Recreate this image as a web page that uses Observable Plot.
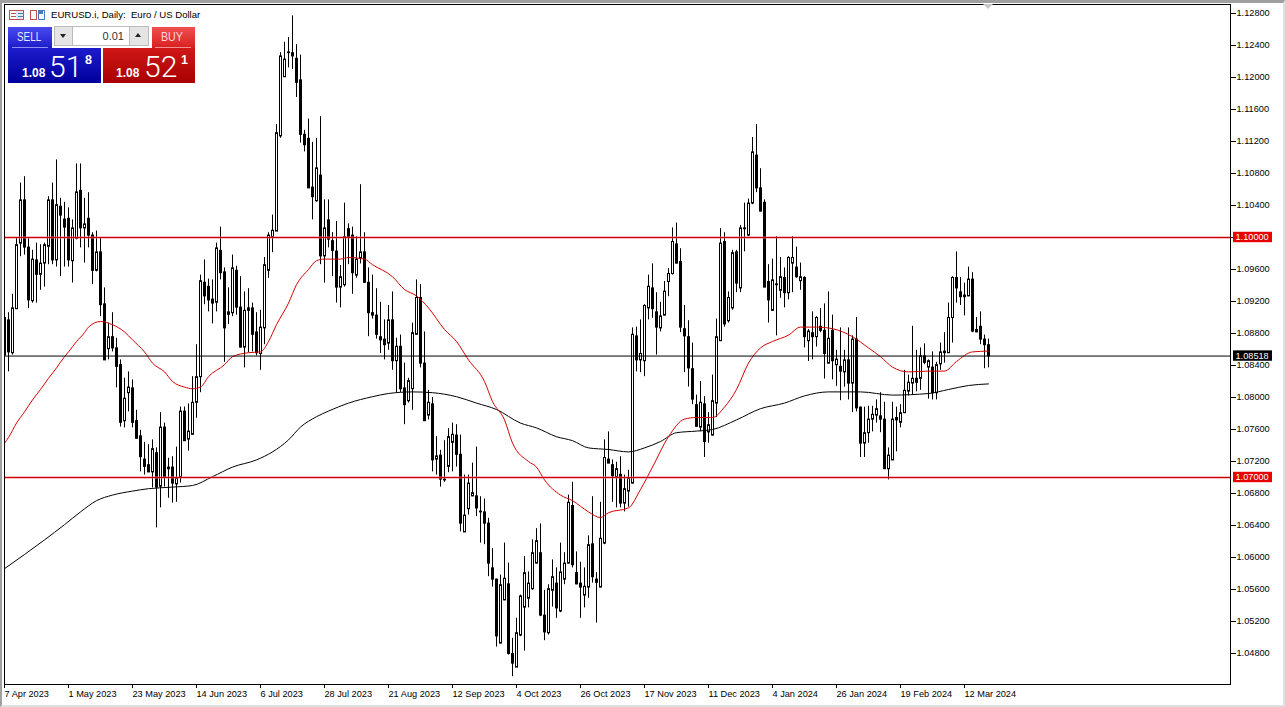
<!DOCTYPE html>
<html>
<head>
<meta charset="utf-8">
<script src="https://cdn.jsdelivr.net/npm/d3@7"></script>
<script src="https://cdn.jsdelivr.net/npm/@observablehq/plot@0.6"></script>
<style>
html,body{margin:0;padding:0;background:#fff;width:1285px;height:707px;overflow:hidden;font-family:"Liberation Sans",Arial,sans-serif}
#chart{position:absolute;left:0;top:0}
#edge{position:absolute;left:0;top:0;width:1285px;height:707px;box-sizing:border-box;border-top:3px solid #a0a0a0;border-left:2px solid #a0a0a0;border-right:2px solid #e0e0e0;border-bottom:2px solid #e0e0e0;pointer-events:none}
.abs{position:absolute;white-space:nowrap;line-height:1}
#tri{position:absolute;left:983px;top:4px;width:0;height:0;border-left:5px solid transparent;border-right:5px solid transparent;border-top:5px solid #c8c8c8}
</style>
</head>
<body>
<div id="chart"></div>
<div id="edge"></div>
<div id="tri"></div>
<div id="widget"></div>
<script>
const highs=[1.0922,1.0906,1.0929,1.0999,1.1068,1.1076,1.0999,1.0984,1.0993,1.0991,
1.0993,1.1051,1.1068,1.1097,1.1049,1.1044,1.1037,1.1022,1.1092,1.1092,
1.1049,1.1056,1.1006,1.1008,1.0999,1.0937,1.0893,1.0906,1.0874,1.0847,
1.0824,1.0832,1.0822,1.0784,1.0759,1.0744,1.0741,1.0747,1.0737,1.0781,
1.0768,1.0724,1.0726,1.0738,1.0788,1.0788,1.0792,1.0826,1.0866,1.0953,
1.0972,1.0948,1.0947,1.0993,1.1013,1.0962,1.0937,1.0978,1.0964,1.0951,
1.0932,1.0936,1.0918,1.0906,1.0909,1.0975,1.1006,1.1028,1.1141,1.1231,
1.1244,1.1250,1.1277,1.1241,1.1228,1.1134,1.1148,1.1119,1.1124,1.1151,
1.1047,1.1047,1.1006,1.1020,1.0965,1.1043,1.1017,1.1013,1.1001,1.1066,
1.1006,1.0962,1.0953,1.0936,1.0919,1.0897,1.0915,1.0932,1.0874,1.0878,
1.0843,1.0824,1.0893,1.0947,1.0941,1.0882,1.0809,1.0800,1.0751,1.0734,
1.0746,1.0761,1.0768,1.0766,1.0753,1.0703,1.0703,1.0718,1.0738,1.0676,
1.0673,1.0649,1.0611,1.0573,1.0578,1.0618,1.0593,1.0499,1.0524,1.0553,
1.0601,1.0582,1.0622,1.0636,1.0642,1.0559,1.0566,1.0597,1.0587,1.0618,
1.0606,1.0678,1.0694,1.0607,1.0594,1.0587,1.0627,1.0676,1.0581,1.0669,
1.0747,1.0757,1.0722,1.0719,1.0726,1.0703,1.0709,1.0887,1.0888,1.0897,
1.0916,1.0953,1.0967,1.0931,1.0919,1.0945,1.0961,1.1012,1.1018,1.0986,
1.0915,1.0896,1.0868,1.0803,1.0820,1.0801,1.0781,1.0828,1.0898,1.1011,
1.1006,1.0932,1.0984,1.0984,1.1015,1.1043,1.1048,1.1125,1.1141,1.1086,
1.1047,1.0966,1.0973,1.1001,1.0975,1.0962,1.0976,1.1001,1.0988,1.0968,
1.0951,1.0885,1.0907,1.0901,1.0911,1.0917,1.0932,1.0903,1.0859,1.0887,
1.0859,1.0887,1.0877,1.0900,1.0788,1.0788,1.0789,1.0789,1.0797,1.0806,
1.0794,1.0737,1.0794,1.0788,1.0791,1.0834,1.0828,1.0889,1.0859,1.0862,
1.0867,1.0847,1.0857,1.0844,1.0868,1.0881,1.0918,1.0951,1.0982,1.0950,
1.0943,1.0963,1.0956,1.0900,1.0907,1.0878,1.0873];
const lows=[1.0853,1.0832,1.0853,1.0910,1.0976,1.0978,1.0911,1.0918,1.0918,1.0934,
1.0938,1.0966,1.0966,1.0963,1.0951,1.0963,1.0963,1.0943,1.0997,1.0987,
1.0968,1.0987,1.0941,1.0957,1.0901,1.0847,1.0847,1.0857,1.0812,1.0763,
1.0762,1.0782,1.0762,1.0749,1.0707,1.0703,1.0706,1.0687,1.0637,1.0662,
1.0688,1.0674,1.0668,1.0669,1.0693,1.0746,1.0733,1.0754,1.0774,1.0806,
1.0916,1.0907,1.0892,1.0907,1.0947,1.0844,1.0891,1.0901,1.0903,1.0862,
1.0837,1.0856,1.0857,1.0852,1.0834,1.0866,1.0949,1.0981,1.1008,1.1124,
1.1201,1.1212,1.1210,1.1175,1.1118,1.1107,1.1062,1.1022,1.1044,1.0966,
1.0943,1.0987,1.0951,1.0918,1.0912,1.0938,1.0966,1.0929,1.0949,1.0967,
1.0943,1.0876,1.0898,1.0873,1.0855,1.0847,1.0859,1.0834,1.0806,1.0806,
1.0766,1.0793,1.0784,1.0878,1.0837,1.0771,1.0772,1.0707,1.0703,1.0688,
1.0694,1.0706,1.0707,1.0713,1.0632,1.0632,1.0653,1.0676,1.0651,1.0618,
1.0616,1.0576,1.0563,1.0488,1.0492,1.0546,1.0478,1.0451,1.0463,1.0501,
1.0483,1.0537,1.0559,1.0592,1.0526,1.0496,1.0503,1.0538,1.0524,1.0531,
1.0566,1.0592,1.0587,1.0566,1.0524,1.0537,1.0549,1.0568,1.0518,1.0563,
1.0616,1.0718,1.0669,1.0662,1.0662,1.0657,1.0663,1.0692,1.0832,1.0831,
1.0826,1.0897,1.0899,1.0853,1.0882,1.0902,1.0926,1.0953,1.0967,1.0881,
1.0831,1.0813,1.0791,1.0763,1.0757,1.0725,1.0743,1.0752,1.0775,1.0870,
1.0888,1.0893,1.0909,1.0931,1.0931,1.0982,1.1001,1.1041,1.1056,1.1032,
1.0938,1.0893,1.0908,1.0877,1.0924,1.0912,1.0922,1.0931,1.0949,1.0934,
1.0862,1.0845,1.0847,1.0863,1.0881,1.0823,1.0842,1.0822,1.0814,1.0796,
1.0813,1.0797,1.0781,1.0782,1.0725,1.0725,1.0743,1.0757,1.0768,1.0756,
1.0711,1.0697,1.0721,1.0732,1.0762,1.0780,1.0802,1.0803,1.0807,1.0809,
1.0841,1.0798,1.0797,1.0797,1.0834,1.0843,1.0855,1.0868,1.0918,1.0915,
1.0902,1.0926,1.0881,1.0881,1.0866,1.0836,1.0837];
const opens=[1.0900,1.0897,1.0856,1.0911,1.0993,1.1047,1.0988,1.0921,1.0972,1.0954,
1.0968,1.0989,1.1047,1.0972,1.1039,1.1023,1.1024,1.0971,1.0999,1.1059,
1.1012,1.1024,1.1003,1.0959,1.0982,1.0917,1.0861,1.0876,1.0862,1.0841,
1.0771,1.0806,1.0812,1.0771,1.0752,1.0723,1.0716,1.0707,1.0731,1.0689,
1.0763,1.0711,1.0713,1.0692,1.0701,1.0783,1.0748,1.0754,1.0794,1.0826,
1.0944,1.0939,1.0923,1.0919,1.0984,1.0957,1.0907,1.0906,1.0959,1.0913,
1.0863,1.0912,1.0912,1.0882,1.0855,1.0887,1.0959,1.1001,1.1008,1.1127,
1.1201,1.1231,1.1231,1.1224,1.1197,1.1129,1.1124,1.1063,1.1046,1.1078,
1.0977,1.1022,1.0996,1.0983,1.0938,1.0941,1.1011,1.1003,1.0953,1.0974,
1.0982,1.0944,1.0906,1.0903,1.0876,1.0873,1.0868,1.0897,1.0846,1.0864,
1.0812,1.0796,1.0811,1.0879,1.0925,1.0843,1.0778,1.0792,1.0723,1.0728,
1.0698,1.0714,1.0744,1.0753,1.0729,1.0632,1.0661,1.0677,1.0677,1.0658,
1.0657,1.0643,1.0587,1.0573,1.0493,1.0547,1.0567,1.0480,1.0463,1.0503,
1.0538,1.0549,1.0561,1.0593,1.0606,1.0528,1.0506,1.0559,1.0568,1.0533,
1.0573,1.0593,1.0665,1.0581,1.0568,1.0553,1.0563,1.0617,1.0573,1.0563,
1.0618,1.0723,1.0716,1.0701,1.0704,1.0668,1.0683,1.0693,1.0877,1.0847,
1.0846,1.0912,1.0937,1.0907,1.0887,1.0903,1.0945,1.0955,1.0992,1.0970,
1.0886,1.0876,1.0836,1.0791,1.0763,1.0792,1.0757,1.0753,1.0793,1.0871,
1.0995,1.0896,1.0912,1.0982,1.0937,1.1012,1.1003,1.1043,1.1103,1.1062,
1.1044,1.0945,1.0909,1.0942,1.0934,1.0950,1.0931,1.0968,1.0963,1.0946,
1.0950,1.0871,1.0881,1.0876,1.0889,1.0884,1.0843,1.0884,1.0841,1.0839,
1.0832,1.0847,1.0818,1.0873,1.0788,1.0743,1.0756,1.0773,1.0778,1.0777,
1.0773,1.0711,1.0722,1.0775,1.0769,1.0781,1.0808,1.0818,1.0824,1.0824,
1.0852,1.0838,1.0838,1.0806,1.0842,1.0856,1.0856,1.0900,1.0950,1.0932,
1.0928,1.0927,1.0948,1.0885,1.0889,1.0873,1.0866];
const closes=[1.0853,1.0857,1.0912,1.0991,1.1047,1.0988,1.0922,1.0973,1.0954,1.0968,
1.0991,1.1047,1.0972,1.1041,1.1028,1.1013,1.0972,1.1012,1.1057,1.1012,
1.1017,1.1003,1.0959,1.0982,1.0916,1.0847,1.0876,1.0862,1.0839,1.0769,
1.0799,1.0813,1.0769,1.0749,1.0726,1.0714,1.0707,1.0736,1.0688,1.0763,
1.0701,1.0713,1.0693,1.0699,1.0783,1.0746,1.0758,1.0794,1.0826,1.0946,
1.0927,1.0922,1.0918,1.0987,1.0956,1.0887,1.0904,1.0962,1.0913,1.0863,
1.0909,1.0909,1.0879,1.0856,1.0888,1.0966,1.1003,1.1009,1.1131,1.1227,
1.1223,1.1232,1.1227,1.1194,1.1129,1.1116,1.1062,1.1051,1.1087,1.0977,
1.1012,1.0998,1.0984,1.0938,1.0951,1.1001,1.1001,1.0956,1.0973,1.0982,
1.0944,1.0906,1.0903,1.0879,1.0872,1.0866,1.0897,1.0846,1.0864,1.0811,
1.0791,1.0821,1.0881,1.0925,1.0843,1.0771,1.0794,1.0722,1.0727,1.0698,
1.0697,1.0751,1.0754,1.0729,1.0643,1.0653,1.0693,1.0681,1.0662,1.0657,
1.0643,1.0593,1.0573,1.0502,1.0566,1.0574,1.0480,1.0468,1.0506,1.0552,
1.0581,1.0568,1.0606,1.0621,1.0528,1.0507,1.0561,1.0576,1.0537,1.0582,
1.0593,1.0669,1.0591,1.0567,1.0563,1.0564,1.0616,1.0576,1.0569,1.0624,
1.0725,1.0718,1.0702,1.0711,1.0668,1.0686,1.0699,1.0879,1.0847,1.0855,
1.0915,1.0939,1.0911,1.0888,1.0902,1.0933,1.0955,1.0995,1.0968,1.0888,
1.0877,1.0837,1.0798,1.0764,1.0794,1.0745,1.0766,1.0796,1.0876,1.0993,
1.0892,1.0925,1.0981,1.0943,1.1012,1.1011,1.1043,1.1107,1.1062,1.1033,
1.0938,1.0922,1.0947,1.0941,1.0951,1.0931,1.0975,1.0975,1.0951,1.0951,
1.0876,1.0883,1.0876,1.0900,1.0884,1.0855,1.0874,1.0846,1.0848,1.0833,
1.0847,1.0818,1.0873,1.0787,1.0743,1.0756,1.0773,1.0779,1.0786,1.0773,
1.0711,1.0728,1.0773,1.0772,1.0781,1.0809,1.0819,1.0824,1.0819,1.0852,
1.0844,1.0846,1.0806,1.0841,1.0857,1.0858,1.0900,1.0950,1.0937,1.0926,
1.0926,1.0948,1.0883,1.0882,1.0873,1.0866,1.0852];

const maRedBars=[0,1,3,5,7,9,11,13,15,16,18,20,21,24,27,30,32,35,37,40,42,45,47,49,51,55,57,61,64,66,68,71,73,76,78,80,84,86,90,92,97,100,103,106,110,113,116,120,122,125,127,131,133,135,139,142,146,149,151,156,159,162,166,170,173,177,180,183,186,189,192,196,199,203,207,212,216,219,222,226,231,235,238,242,246];
const maRedValues=[1.0743,1.0750,1.0768,1.0782,1.0797,1.0810,1.0824,1.0837,1.0851,1.0857,1.0870,1.0881,1.0888,1.0895,1.0891,1.0882,1.0872,1.0857,1.0843,1.0832,1.0820,1.0813,1.0811,1.0813,1.0826,1.0841,1.0851,1.0856,1.0857,1.0870,1.0891,1.0918,1.0941,1.0960,1.0971,1.0973,1.0973,1.0975,1.0973,1.0966,1.0951,1.0935,1.0927,1.0912,1.0885,1.0870,1.0847,1.0820,1.0795,1.0772,1.0743,1.0720,1.0713,1.0697,1.0678,1.0671,1.0657,1.0650,1.0656,1.0662,1.0685,1.0713,1.0751,1.0773,1.0775,1.0775,1.0788,1.0810,1.0843,1.0862,1.0870,1.0878,1.0888,1.0888,1.0886,1.0876,1.0862,1.0851,1.0838,1.0832,1.0833,1.0833,1.0845,1.0857,1.0858];
const maBlackBars=[0,10,15,19,23,27,32,36,42,47,52,57,63,67,71,74,78,81,86,92,96,102,107,113,118,123,129,133,138,142,146,151,156,160,164,168,173,177,183,189,195,200,206,214,222,231,236,241,246];
const maBlackValues=[1.0586,1.0622,1.0641,1.0657,1.0671,1.0678,1.0683,1.0686,1.0688,1.0690,1.0701,1.0713,1.0722,1.0732,1.0747,1.0763,1.0776,1.0783,1.0793,1.0801,1.0805,1.0807,1.0806,1.0801,1.0793,1.0785,1.0768,1.0762,1.0751,1.0746,1.0737,1.0735,1.0732,1.0737,1.0745,1.0756,1.0758,1.0760,1.0772,1.0786,1.0793,1.0802,1.0807,1.0807,1.0803,1.0805,1.0810,1.0815,1.0817];

const priceTicks=[1.128,1.124,1.12,1.116,1.112,1.108,1.104,1.1,1.096,1.092,1.088,1.084,1.08,1.076,1.072,1.068,1.064,1.06,1.056,1.052,1.048];
const dateTickBars=[0,16,32,48,64,80,96,112,128,144,160,176,192,208,224,240];
const dateTickLabels=["7 Apr 2023","1 May 2023","23 May 2023","14 Jun 2023","6 Jul 2023","28 Jul 2023","21 Aug 2023","12 Sep 2023","4 Oct 2023","26 Oct 2023","17 Nov 2023","11 Dec 2023","4 Jan 2024","26 Jan 2024","19 Feb 2024","12 Mar 2024"];
const redLevels=[1.10,1.07];
const currentPrice=[1.08518];

const candles=highs.map((h,i)=>({i,h,l:lows[i],o:opens[i],c:closes[i]}));
const toPoints=(xs,ys)=>xs.map((x,i)=>({x,y:ys[i]}));
const FONT='"Liberation Sans",Arial,sans-serif';
const RED="#d40000";
const tagHalf=0.00065;
const tagData=[...redLevels.map(v=>({v,fill:"#e60000"})),...currentPrice.map(v=>({v,fill:"#000"}))];

const plot=Plot.plot({
  width:1285,height:707,
  marginLeft:4,marginRight:55,marginTop:4,marginBottom:23,
  style:{background:"transparent",fontFamily:FONT,fontSize:"9.2px",color:"#000"},
  x:{type:"linear",domain:[0,306.5],axis:null},
  y:{type:"linear",domain:[1.044125,1.129125],axis:null},
  color:{type:"identity"},
  marks:[
    Plot.ruleX(candles,{x:"i",y1:"l",y2:"h",stroke:"#000",strokeWidth:1,clip:true}),
    Plot.rect(candles,{x1:d=>d.i-0.25,x2:d=>d.i+0.25,y1:d=>Math.min(d.o,d.c),y2:d=>Math.max(d.o,d.c),
      fill:d=>d.c>=d.o?"#fff":"#000",stroke:"#000",strokeWidth:1,dx:0.5,dy:0.5,clip:true}),
    Plot.line(toPoints(maBlackBars,maBlackValues),{x:"x",y:"y",stroke:"#000",strokeWidth:1,curve:"monotone-x",clip:true}),
    Plot.line(toPoints(maRedBars,maRedValues),{x:"x",y:"y",stroke:RED,strokeWidth:1,curve:"monotone-x",clip:true}),
    Plot.ruleY(currentPrice,{stroke:"#000",strokeWidth:1}),
    Plot.ruleY(redLevels,{stroke:"#e87070",strokeWidth:3,strokeOpacity:0.45}),
    Plot.ruleY(redLevels,{stroke:"#cc0000",strokeWidth:1}),
    Plot.frame({stroke:"#000",strokeWidth:1}),
    Plot.axisY({anchor:"right",ticks:priceTicks,tickFormat:d=>d.toFixed(5),tickSize:5,tickPadding:1,label:null,fontSize:9.2,stroke:"#000",fill:"#000"}),
    Plot.axisX({anchor:"bottom",ticks:dateTickBars,tickFormat:d=>dateTickLabels[dateTickBars.indexOf(d)],tickSize:4,tickPadding:2,textAnchor:"start",label:null,fontSize:9.2,stroke:"#000",fill:"#000"}),
    Plot.rect(tagData,{x1:307.25,x2:317,y1:d=>d.v-tagHalf,y2:d=>d.v+tagHalf,fill:"fill"}),
    Plot.text(tagData,{x:307.75,y:"v",text:d=>d.v.toFixed(5),fill:"#fff",textAnchor:"start",fontSize:9.2})
  ]
});
document.getElementById("chart").append(plot);

/* trading panel and header text */
const w=document.getElementById("widget");
function box(l,t,wd,h,css,txt){
  const d=document.createElement("div");d.className="abs";
  d.style.cssText=`left:${l}px;top:${t}px;width:${wd}px;height:${h}px;${css}`;
  if(txt!=null)d.textContent=txt;
  w.append(d);return d;
}
function label(l,t,size,css,txt){
  const d=document.createElement("div");d.className="abs";
  d.style.cssText=`left:${l}px;top:${t}px;font-size:${size}px;${css}`;
  d.textContent=txt;w.append(d);return d;
}
/* header icons */
box(9,10,15,10,"box-sizing:border-box;border:1px solid #c0504d;background:linear-gradient(90deg,#fff 45%,#dbe8f7 45%)");
box(11,13,5,1,"background:#c0504d");box(11,16,5,1,"background:#c0504d");
box(18,13,5,1,"background:#4a7ebb");box(18,16,5,1,"background:#4a7ebb");
box(30,10,7,10,"box-sizing:border-box;border:1px solid #c0504d;background:#fff");
box(38,10,7,10,"box-sizing:border-box;border:1px solid #4a7ebb;background:#fff");
box(39,11,4,3,"background:#4a7ebb");
label(51,10,9.6,"color:#000;white-space:pre","EURUSD.i, Daily:  Euro / US Dollar");
/* buttons */
box(8,27,44,21,"background:linear-gradient(#4a4af0,#1c1ccc)");
label(17,30,13,"color:#e8e8ff;transform-origin:left center;transform:scaleX(.76)","SELL");
box(12,47,36,1,"background:#8f8ff0");
box(54,26,19,20,"box-sizing:border-box;background:#e4e4e4;border:1px solid #bbb");
box(129,26,20,20,"box-sizing:border-box;background:#e4e4e4;border:1px solid #bbb");
box(73,26,56,20,"box-sizing:border-box;background:#fff;border-top:1px solid #bbb;border-bottom:1px solid #bbb;text-align:right;padding-right:5px;font-size:11px;line-height:18px;color:#333","0.01");
box(60,34,0,0,"border-left:3.5px solid transparent;border-right:3.5px solid transparent;border-top:4px solid #222");
box(135,33,0,0,"border-left:3.5px solid transparent;border-right:3.5px solid transparent;border-bottom:4px solid #222");
box(152,27,43,21,"background:linear-gradient(#f05050,#d82020)");
label(161,30,13,"color:#ffd8d8;transform-origin:left center;transform:scaleX(.82)","BUY");
box(155,47,36,1,"background:#f09090");
/* quote boxes */
box(8,48,93,35,"background:linear-gradient(#1c1ccc,#00009c)");
box(103,48,92,35,"background:linear-gradient(#d01818,#a80000)");
label(22,67,12,"color:#fff;font-weight:bold","1.08");
label(49,52,30,"color:#fff;font-family:Roboto;font-weight:300","51");
label(85,54,12.5,"color:#fff;font-weight:bold","8");
label(116,67,12,"color:#fff;font-weight:bold","1.08");
label(144,52,30,"color:#fff;font-family:Roboto;font-weight:300","52");
label(181,54,12.5,"color:#fff;font-weight:bold","1");
</script>
</body>
</html>
